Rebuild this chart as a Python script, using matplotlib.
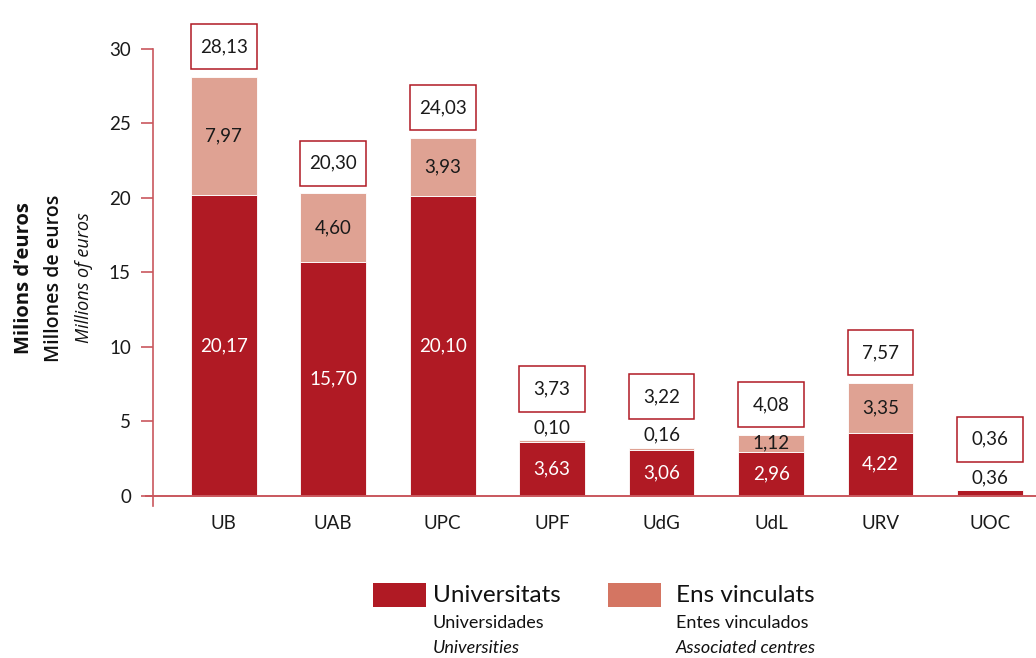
import matplotlib
matplotlib.use('Agg')
import matplotlib.pyplot as plt
from matplotlib.patches import Rectangle

plt.rcParams['font.family'] = ['Lato', 'DejaVu Sans']

# データ
universitats = ['UB', 'UAB', 'UPC', 'UPF', 'UdG', 'UdL', 'URV', 'UOC']
univ_vals = [20.17, 15.70, 20.10, 3.63, 3.06, 2.96, 4.22, 0.36]
ens_vals = [7.97, 4.60, 3.93, 0.10, 0.16, 1.12, 3.35, 0.0]
totals = [28.13, 20.30, 24.03, 3.73, 3.22, 4.08, 7.57, 0.36]
yticks = [0, 5, 10, 15, 20, 25, 30]


def fmt(v):
    return f"{v:.2f}".replace('.', ',')


RED = '#b01a24'
LIGHT = '#dfa293'
LEGEND_LIGHT = '#d47562'
AXIS = '#c9575d'
BAR_W = 0.6
LBL = 13.5

fig = plt.figure(figsize=(10.36, 6.58), dpi=100)
ax = fig.add_axes([146 / 1036, 152 / 658, 890 / 1036, 457 / 658])

x = list(range(len(universitats)))
ax.bar(x, univ_vals, width=BAR_W, color=RED, edgecolor='white', linewidth=0.6, zorder=2)
ax.bar(x, ens_vals, width=BAR_W, bottom=univ_vals, color=LIGHT,
       edgecolor='white', linewidth=0.6, zorder=2)

ax.set_xlim(-0.71, 7.42)
ax.set_ylim(-0.7, 30)

for i in x:
    u, e, t = univ_vals[i], ens_vals[i], totals[i]
    top = u + e
    small = e < 0.5
    # 大学部分のラベル
    if u > 1:
        ax.text(i, u / 2, fmt(u), ha='center', va='center', color='white',
                fontsize=LBL, zorder=3)
    else:
        ax.text(i, top + 0.85, fmt(u), ha='center', va='center', color='#1a1a1a',
                fontsize=LBL, zorder=3)
    # 関連機関部分のラベル
    if e > 0:
        if small:
            ax.text(i, top + 0.85, fmt(e), ha='center', va='center', color='#1a1a1a',
                    fontsize=LBL, zorder=3)
        else:
            ax.text(i, u + e / 2, fmt(e), ha='center', va='center', color='#1a1a1a',
                    fontsize=LBL, zorder=3)
    # 合計ボックス
    gap = 1.9 if (small or u <= 1) else 0.5
    box_h = 3.05
    rect = Rectangle((i - BAR_W / 2, top + gap), BAR_W, box_h, facecolor='white',
                     edgecolor=RED, linewidth=1.1, clip_on=False, zorder=3)
    ax.add_patch(rect)
    ax.text(i, top + gap + box_h / 2, fmt(t), ha='center', va='center',
            color='#1a1a1a', fontsize=LBL, zorder=4, clip_on=False)

# 軸
for s in ['top', 'right']:
    ax.spines[s].set_visible(False)
ax.spines['left'].set_position(('data', -0.645))
ax.spines['bottom'].set_position(('data', 0))
ax.spines['left'].set_color(AXIS)
ax.spines['bottom'].set_color(AXIS)
ax.spines['left'].set_linewidth(1.2)
ax.spines['bottom'].set_linewidth(1.4)
ax.spines['left'].set_bounds(-0.7, 30)

ax.set_yticks(yticks)
ax.set_yticklabels([str(v) for v in yticks])
ax.tick_params(axis='y', direction='out', length=9, width=1.2, color=AXIS,
               labelsize=13.5, pad=7, labelcolor='#1a1a1a')
ax.set_xticks(x)
ax.set_xticklabels(universitats)
ax.tick_params(axis='x', length=0, labelsize=13.5, pad=14, labelcolor='#1a1a1a')

# Y軸ラベル (3行)
ycen = (658 - 278) / 658
yfont = ['Open Sans', 'DejaVu Sans']
fig.text(24 / 1036, ycen, "Milions d’euros", rotation=90, ha='center', va='center',
         fontsize=14.5, fontweight='bold', color='#111111', family=yfont)
fig.text(54 / 1036, ycen, "Millones de euros", rotation=90, ha='center', va='center',
         fontsize=14, fontweight='semibold', color='#111111', family=yfont)
fig.text(84 / 1036, ycen, "Millions of euros", rotation=90, ha='center', va='center',
         fontsize=13, fontstyle='italic', color='#111111', family=yfont)

# 凡例
legend_items = [
    (373, 433, RED, "Universitats", "Universidades", "Universities"),
    (608, 676, LEGEND_LIGHT, "Ens vinculats", "Entes vinculados", "Associated centres"),
]
for px, tpx, col, l1, l2, l3 in legend_items:
    fig.patches.append(Rectangle((px / 1036, (658 - 607) / 658), 53 / 1036, 24 / 658,
                                 transform=fig.transFigure, facecolor=col,
                                 edgecolor='none'))
    tx = tpx / 1036
    fig.text(tx, (658 - 595) / 658, l1, ha='left', va='center', fontsize=17.5,
             color='#111111')
    fig.text(tx, (658 - 623) / 658, l2, ha='left', va='center', fontsize=13,
             color='#111111')
    fig.text(tx, (658 - 648) / 658, l3, ha='left', va='center', fontsize=13,
             fontstyle='italic', color='#111111')

fig.savefig('out.png', dpi=100, facecolor='white')
